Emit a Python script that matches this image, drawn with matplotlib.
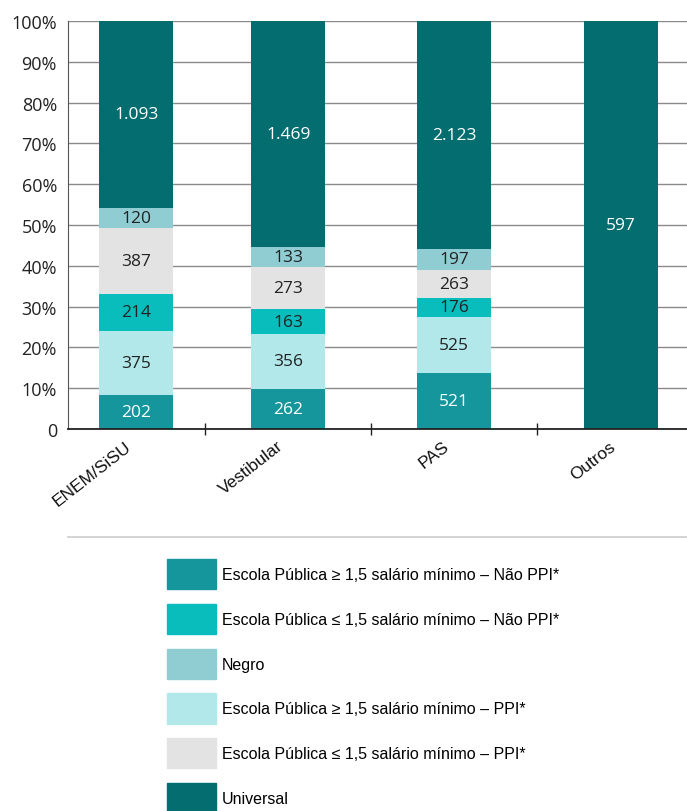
import numpy as np
import matplotlib
matplotlib.use("Agg")
import matplotlib.pyplot as plt
from matplotlib.lines import Line2D

# forma de ingresso
categorias = ["ENEM/SiSU", "Vestibular", "PAS", "Outros"]

# vagas por grupo de cota (de baixo para cima na pilha)
ep_acima_nao_ppi = [202, 262, 521, 0]
ep_acima_ppi = [375, 356, 525, 0]
ep_abaixo_nao_ppi = [214, 163, 176, 0]
ep_abaixo_ppi = [387, 273, 263, 0]
negro = [120, 133, 197, 0]
universal = [1093, 1469, 2123, 597]

grupos = [
    (ep_acima_nao_ppi, "#15969d", "white"),
    (ep_acima_ppi, "#b2e8ea", "#222222"),
    (ep_abaixo_nao_ppi, "#0abdbd", "#222222"),
    (ep_abaixo_ppi, "#e3e3e3", "#222222"),
    (negro, "#8fcdd3", "#222222"),
    (universal, "#036d70", "white"),
]

legenda = [
    ("Escola Pública ≥ 1,5 salário mínimo – Não PPI*", "#15969d"),
    ("Escola Pública ≤ 1,5 salário mínimo – Não PPI*", "#0abdbd"),
    ("Negro", "#8fcdd3"),
    ("Escola Pública ≥ 1,5 salário mínimo – PPI*", "#b2e8ea"),
    ("Escola Pública ≤ 1,5 salário mínimo – PPI*", "#e3e3e3"),
    ("Universal", "#036d70"),
]

fig = plt.figure(figsize=(6.87, 8.12), dpi=100)
ax = fig.add_axes([0.099, 0.4704, 0.901, 0.5025])

x = np.arange(len(categorias), dtype=float)
x[0] += 0.085  # primeira barra um pouco deslocada para a direita
totais = np.sum([g[0] for g in grupos], axis=0)
base = np.zeros(len(categorias))

for valores, cor, cor_txt in grupos:
    v = np.array(valores, dtype=float)
    pct = v / totais * 100
    ax.bar(x, pct, bottom=base, width=0.445, color=cor, zorder=2)
    for i in range(len(x)):
        if v[i] > 0:
            txt = f"{int(v[i]):,}".replace(",", ".")
            ax.text(x[i], base[i] + pct[i] / 2, txt, ha="center", va="center",
                    fontsize=12.5, color=cor_txt, family="Open Sans", zorder=3)
    base += pct

ax.set_xlim(-0.325, 3.4)
ax.set_ylim(0, 100)
ax.set_yticks(np.arange(0, 101, 10))
ax.set_yticklabels(["0"] + [f"{t}%" for t in range(10, 101, 10)],
                   family="Open Sans", fontsize=13, color="#222222")
ax.tick_params(axis="y", length=0, pad=8)
ax.grid(axis="y", color="#8a8a8a", linewidth=1, zorder=0)

# marcas do eixo x entre as categorias
ax.set_xticks([0.5, 1.5, 2.5])
ax.set_xticklabels([])
ax.tick_params(axis="x", direction="inout", length=8, width=1, color="#222222")
for i, nome in enumerate(categorias):
    ax.text(x[i] - 0.07, -2.2, nome, rotation=38, ha="right", va="top",
            rotation_mode="anchor", fontsize=12.5, family="Liberation Sans",
            color="#111111")

for lado in ["top", "right"]:
    ax.spines[lado].set_visible(False)
ax.spines["left"].set_color("#555555")
ax.spines["bottom"].set_color("#222222")
ax.spines["bottom"].set_linewidth(1.3)

# linha separando o gráfico da legenda
fig.add_artist(Line2D([0.099, 1.0], [1 - 538 / 812] * 2, color="#cccccc",
                      linewidth=1.2, transform=fig.transFigure))

handles = [plt.Rectangle((0, 0), 1, 1, color=c) for _, c in legenda]
fig.legend(handles, [n for n, _ in legenda], loc="upper left",
           bbox_to_anchor=(167 / 687, 1 - 560 / 812), frameon=False,
           prop={"family": "Liberation Sans", "size": 11.5},
           handlelength=3.05, handleheight=2.55, labelspacing=0.9,
           handletextpad=0.4, borderpad=0, borderaxespad=0)

fig.savefig("out.png", dpi=100)
